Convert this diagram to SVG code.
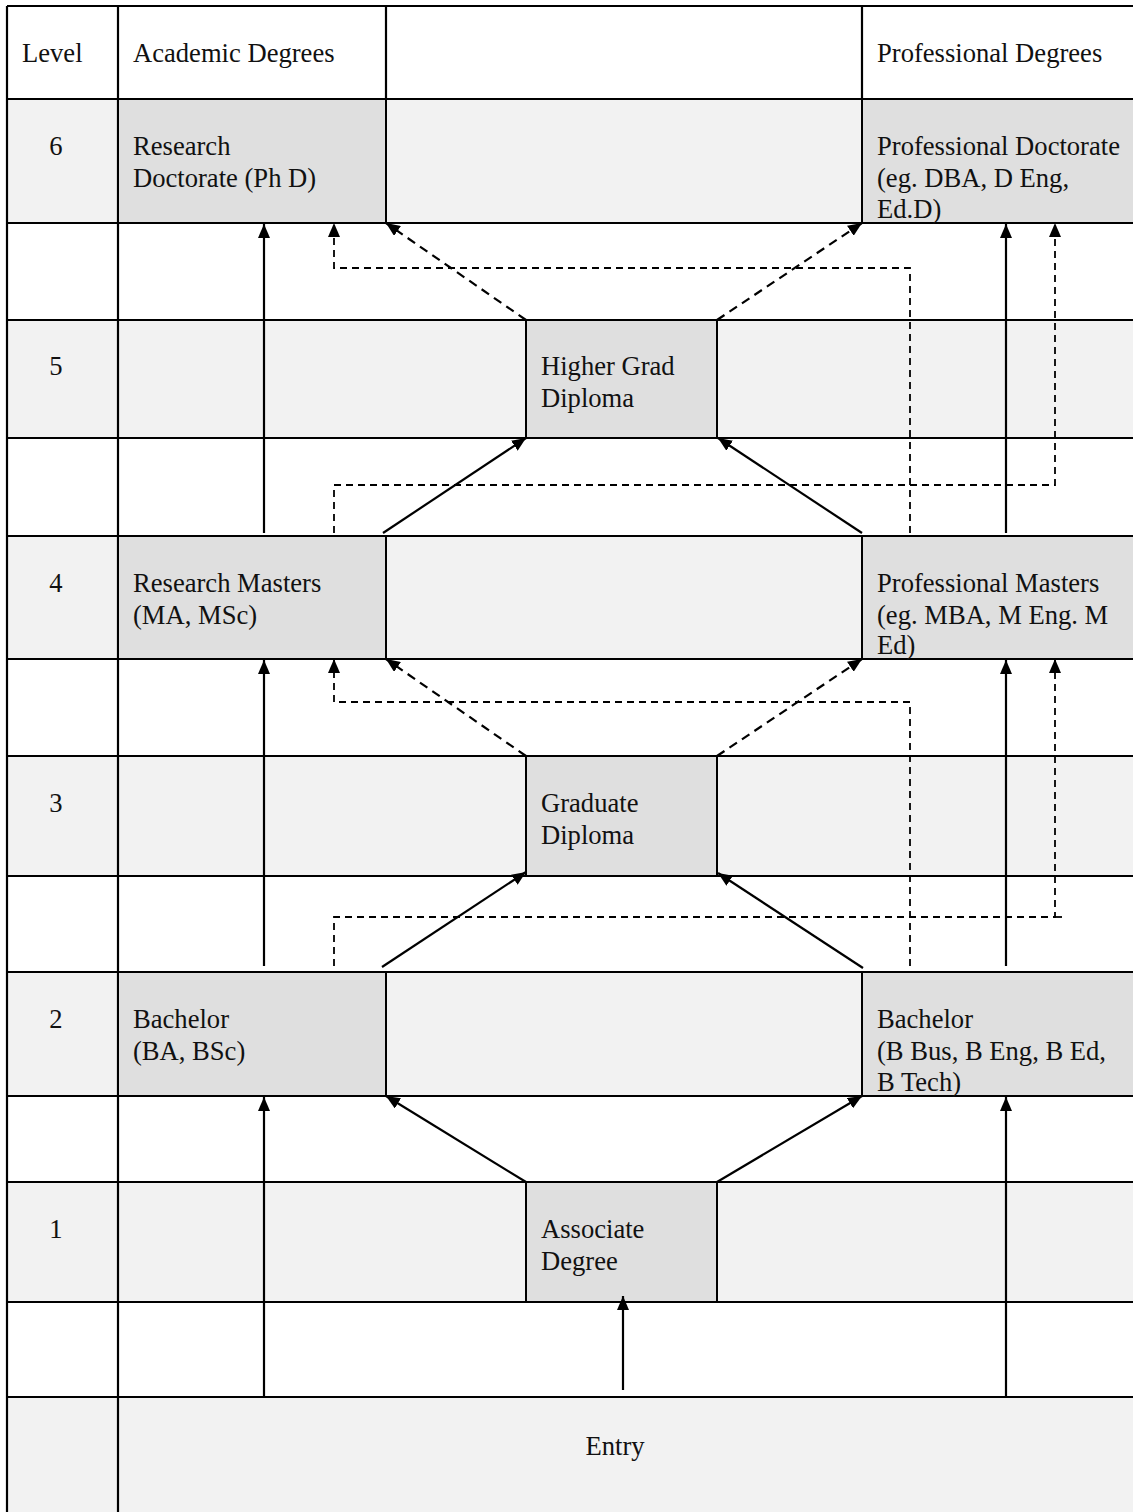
<svg xmlns="http://www.w3.org/2000/svg" width="1133" height="1512" viewBox="0 0 1133 1512">
<style>
text{font-family:"Liberation Serif","Times New Roman",serif;font-size:26.6px;fill:#111}
.num{text-anchor:middle}
.row{fill:#f2f2f2}
.box{fill:#dfdfdf;stroke:#000;stroke-width:2}
.g{stroke:#000;stroke-width:2.2;fill:none}
.s{stroke:#000;stroke-width:2.2;fill:none;marker-end:url(#ah)}
.d{stroke:#000;stroke-width:2.2;fill:none;stroke-dasharray:9 6;marker-end:url(#ah)}
.p{stroke:#000;stroke-width:1.8;fill:none;stroke-dasharray:7 5}
.pa{stroke:#000;stroke-width:1.8;fill:none;stroke-dasharray:7 5;marker-end:url(#ah)}
</style>
<defs>
<marker id="ah" markerUnits="userSpaceOnUse" markerWidth="14" markerHeight="12" refX="14" refY="6" orient="auto">
<path d="M0,0 L14,6 L0,12 z" fill="#000"/>
</marker>
</defs>
<rect x="0" y="0" width="1133" height="1512" fill="#fff"/>
<g id="rows">
<rect class="row" x="7" y="99" width="1126" height="124"/>
<rect class="row" x="7" y="320" width="1126" height="118"/>
<rect class="row" x="7" y="536" width="1126" height="123"/>
<rect class="row" x="7" y="756" width="1126" height="120"/>
<rect class="row" x="7" y="972" width="1126" height="124"/>
<rect class="row" x="7" y="1182" width="1126" height="120"/>
<rect class="row" x="7" y="1397" width="1126" height="115"/>
</g>
<g id="grid">
<path class="g" d="M7,6 H1133 M7,99 H1133 M7,223 H1133 M7,320 H1133 M7,438 H1133 M7,536 H1133 M7,659 H1133 M7,756 H1133 M7,876 H1133 M7,972 H1133 M7,1096 H1133 M7,1182 H1133 M7,1302 H1133 M7,1397 H1133"/>
<path class="g" d="M7,6 V1512 M118,6 V1512 M386,6 V99 M862,6 V99"/>
</g>
<g id="header">
<text x="22" y="62">Level</text>
<text x="133" y="62">Academic Degrees</text>
<text x="877" y="62">Professional Degrees</text>
</g>
<g id="levels">
<text class="num" x="56" y="155">6</text>
<text class="num" x="56" y="375">5</text>
<text class="num" x="56" y="592">4</text>
<text class="num" x="56" y="812">3</text>
<text class="num" x="56" y="1028">2</text>
<text class="num" x="56" y="1238">1</text>
</g>
<g id="research-doctorate">
<rect class="box" x="118" y="99" width="268" height="124"/>
<text x="133" y="155">Research</text>
<text x="133" y="187">Doctorate (Ph D)</text>
</g>
<g id="professional-doctorate">
<rect class="box" x="862" y="99" width="280" height="124"/>
<text x="877" y="155">Professional Doctorate</text>
<text x="877" y="187">(eg. DBA, D Eng,</text>
<text x="877" y="218">Ed.D)</text>
</g>
<g id="higher-grad-diploma">
<rect class="box" x="526" y="320" width="191" height="118"/>
<text x="541" y="375">Higher Grad</text>
<text x="541" y="407">Diploma</text>
</g>
<g id="research-masters">
<rect class="box" x="118" y="536" width="268" height="123"/>
<text x="133" y="592">Research Masters</text>
<text x="133" y="624">(MA, MSc)</text>
</g>
<g id="professional-masters">
<rect class="box" x="862" y="536" width="280" height="123"/>
<text x="877" y="592">Professional Masters</text>
<text x="877" y="624">(eg. MBA, M Eng. M</text>
<text x="877" y="654">Ed)</text>
</g>
<g id="graduate-diploma">
<rect class="box" x="526" y="756" width="191" height="120"/>
<text x="541" y="812">Graduate</text>
<text x="541" y="844">Diploma</text>
</g>
<g id="bachelor-academic">
<rect class="box" x="118" y="972" width="268" height="124"/>
<text x="133" y="1028">Bachelor</text>
<text x="133" y="1060">(BA, BSc)</text>
</g>
<g id="bachelor-professional">
<rect class="box" x="862" y="972" width="280" height="124"/>
<text x="877" y="1028">Bachelor</text>
<text x="877" y="1060">(B Bus, B Eng, B Ed,</text>
<text x="877" y="1091">B Tech)</text>
</g>
<g id="associate-degree">
<rect class="box" x="526" y="1182" width="191" height="120"/>
<text x="541" y="1238">Associate</text>
<text x="541" y="1270">Degree</text>
</g>
<g id="entry">
<text class="num" x="615" y="1455">Entry</text>
</g>
<g id="connectors">
<path class="s" d="M264,533 V224"/>
<path class="s" d="M264,966 V660"/>
<path class="s" d="M264,1397 V1097"/>
<path class="s" d="M1006,533 V224"/>
<path class="s" d="M1006,966 V660"/>
<path class="s" d="M1006,1397 V1097"/>
<path class="s" d="M623,1390 V1296"/>
<path class="s" d="M383,533 L526,438"/>
<path class="s" d="M862,533 L718,438"/>
<path class="s" d="M382,967 L526,872"/>
<path class="s" d="M863,968 L718,873"/>
<path class="s" d="M526,1182 L386,1096"/>
<path class="s" d="M717,1182 L862,1096"/>
<path class="d" d="M526,320 L386,223"/>
<path class="d" d="M717,320 L862,223"/>
<path class="d" d="M526,756 L386,659"/>
<path class="d" d="M717,756 L862,659"/>
<path class="pa" d="M910,533 V268 H334 V223"/>
<path class="pa" d="M334,533 V485 H1055 V223"/>
<path class="pa" d="M910,966 V702 H334 V659"/>
<path class="pa" d="M334,966 V917 H1055 V659"/>
<path class="p" d="M1055,917 H1065"/>
</g>
</svg>
